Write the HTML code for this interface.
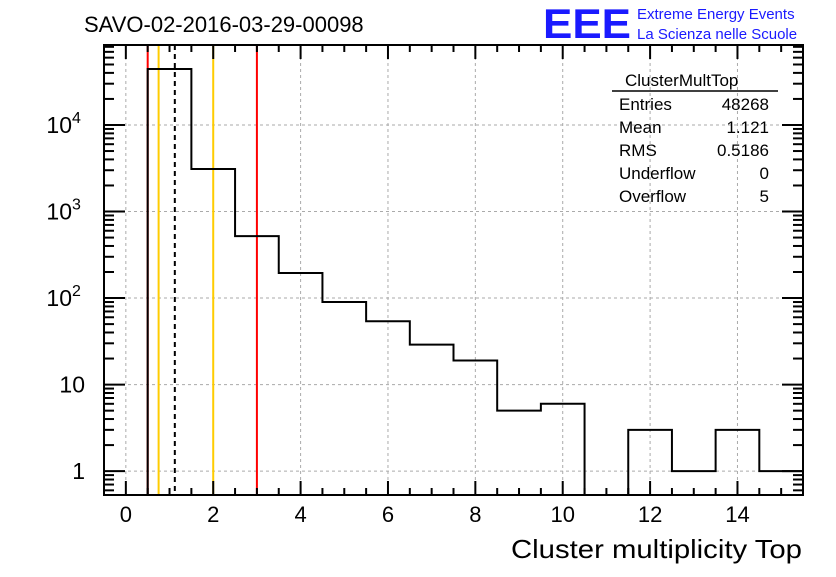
<!DOCTYPE html>
<html><head><meta charset="utf-8"><style>
body{margin:0;background:#fff;width:836px;height:572px;overflow:hidden}
svg{font-family:"Liberation Sans",sans-serif}
</style></head><body>
<svg id="c" width="836" height="572">
<rect width="836" height="572" fill="#fff"/>
<text x="84" y="32" font-size="22">SAVO-02-2016-03-29-00098</text>
<g>
<text x="543" y="38" font-size="42" font-weight="bold" fill="#1a1aff" textLength="88" lengthAdjust="spacingAndGlyphs">EEE</text>
<text x="637" y="19" font-size="15" fill="#1a1aff">Extreme Energy Events</text>
<text x="637" y="39" font-size="15" fill="#1a1aff">La Scienza nelle Scuole</text>
</g>
<g id="grid"></g><g id="lines"></g><g id="marks"></g><g id="axes"></g>
<g font-size="17">
<text x="625" y="86">ClusterMultTop</text>
<line x1="612" y1="91" x2="778" y2="91" stroke="#000" stroke-width="1.5"/>
<text x="619" y="110">Entries</text><text x="769" y="110" text-anchor="end">48268</text>
<text x="619" y="133">Mean</text><text x="769" y="133" text-anchor="end">1.121</text>
<text x="619" y="156">RMS</text><text x="769" y="156" text-anchor="end">0.5186</text>
<text x="619" y="179">Underflow</text><text x="769" y="179" text-anchor="end">0</text>
<text x="619" y="202">Overflow</text><text x="769" y="202" text-anchor="end">5</text>
</g>
<text x="802" y="558" font-size="26" text-anchor="end" textLength="291" lengthAdjust="spacingAndGlyphs">Cluster multiplicity Top</text>
</svg>
<script>
const binCenters=[0,1,2,3,4,5,6,7,8,9,10,11,12,13,14,15];
const counts=[0,44400,3100,520,195,90,54,29,19,5,6,0,3,1,3,1];
const xTicks=[0,2,4,6,8,10,12,14];
const yTicks=[1,10,100,1000,10000];
const yTickLabels=["1","10","10^2","10^3","10^4"];
const vLines=[{v:0.5,c:"#ff0000",d:""},{v:0.75,c:"#ffcc00",d:""},{v:1.121,c:"#000",d:"5,4"},{v:2,c:"#ffcc00",d:""},{v:3,c:"#ff0000",d:""}];
const L=104,R=803,T=45,B=495,xmin=-0.5,xmax=15.5,ymin=0.53,ymax=84000;
const X=v=>L+(v-xmin)/(xmax-xmin)*(R-L);
const Y=v=>B-(Math.log10(v)-Math.log10(ymin))/(Math.log10(ymax)-Math.log10(ymin))*(B-T);
const NS="http://www.w3.org/2000/svg";
function mk(p,t,a){const e=document.createElementNS(NS,t);for(const k in a)e.setAttribute(k,a[k]);document.getElementById(p).appendChild(e);return e;}
xTicks.forEach(t=>{const e=mk("grid","line",{x1:X(t),x2:X(t),y1:T,y2:B,stroke:"#aaa","stroke-dasharray":"3,3"});

});
yTicks.forEach(t=>{const e=mk("grid","line",{x1:L,x2:R,y1:Y(t),y2:Y(t),stroke:"#aaa","stroke-dasharray":"3,3"});

});
vLines.forEach(l=>{const e=mk("lines","line",{x1:X(l.v),x2:X(l.v),y1:T,y2:B,stroke:l.c,"stroke-width":2,"stroke-dasharray":l.d});

});
let d="";let started=false;
binCenters.forEach((c,i)=>{const v=counts[i];const y=v>0?Y(v):B;const x0=X(c-0.5),x1=X(c+0.5);
if(!started){if(v<=0)return;d+=`M${x0},${B}L${x0},${y}`;started=true;}else{d+=`L${x0},${y}`;}d+=`L${x1},${y}`;});
const h=mk("marks","path",{d:d,fill:"none",stroke:"#000","stroke-width":2});


const fr=mk("axes","rect",{x:L,y:T,width:R-L,height:B-T,fill:"none",stroke:"#000","stroke-width":2});


for(let k=-1;k<=31;k++){const vv=k/2;if(vv<xmin||vv>xmax)continue;const major=k%4===0;const len=major?14:7;
mk("axes","line",{x1:X(vv),x2:X(vv),y1:B,y2:B-len,stroke:"#000","stroke-width":2});
mk("axes","line",{x1:X(vv),x2:X(vv),y1:T,y2:T+len,stroke:"#000","stroke-width":2});}
xTicks.forEach(t=>{const e=mk("axes","text",{x:X(t),y:B+27,"font-size":22,"text-anchor":"middle"});e.textContent=t;

});
for(let dec=-1;dec<5;dec++)for(let m=1;m<10;m++){const v=m*Math.pow(10,dec);if(v<ymin||v>ymax)continue;
const len=m==1?21:10;
mk("axes","line",{x1:L,x2:L+len,y1:Y(v),y2:Y(v),stroke:"#000","stroke-width":2});
mk("axes","line",{x1:R,x2:R-len,y1:Y(v),y2:Y(v),stroke:"#000","stroke-width":2});}
yTicks.forEach((t,i)=>{const lab=yTickLabels[i];const e=mk("axes","text",{x:L-19,y:Y(t)+8,"font-size":23,"text-anchor":"end"});
if(lab.includes("^")){const [b,p]=lab.split("^");e.setAttribute("x",L-32);e.textContent=b;
const s=mk("axes","text",{x:L-32,y:Y(t)-2,"font-size":16});s.textContent=p;

}else e.textContent=lab;

});
</script>
</body></html>
